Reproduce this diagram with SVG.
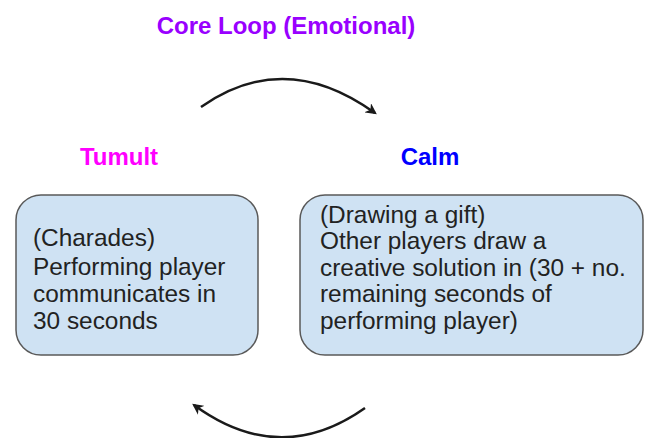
<svg xmlns="http://www.w3.org/2000/svg" width="645" height="438" viewBox="0 0 645 438">
<style>
.t{font-family:"Liberation Sans",Arial,sans-serif;font-size:24px;font-weight:bold;text-anchor:middle}
.b{font-family:"Liberation Sans",Arial,sans-serif;font-size:24.4px;fill:#222}
.box{fill:#cfe2f3;stroke:#595959;stroke-width:1.5}
.arc{fill:none;stroke:#1a1a1a;stroke-width:2.5;marker-end:url(#ah)}
</style>
<defs>
<marker id="ah" viewBox="0 0 10 10" refX="8" refY="5" markerWidth="4.5" markerHeight="4.5" orient="auto" markerUnits="strokeWidth">
<path d="M0,0 L10,5 L0,10 L3,5 z" fill="#1a1a1a"/>
</marker>
</defs>
<rect width="645" height="438" fill="#fff"/>
<g id="title"><text class="t" x="286" y="34" fill="#9900ff">Core Loop (Emotional)</text></g>
<g id="tumult-label"><text class="t" x="119" y="165" fill="#ff00ff">Tumult</text></g>
<g id="calm-label"><text class="t" x="430" y="165" fill="#0000ff">Calm</text></g>
<g id="tumult">
<rect class="box" x="16" y="195" width="242" height="160" rx="25"/>
<text class="b" x="33"><tspan x="33" y="246">(Charades)</tspan><tspan x="33" y="275">Performing player</tspan><tspan x="33" y="302">communicates in</tspan><tspan x="33" y="329">30 seconds</tspan></text>
</g>
<g id="calm">
<rect class="box" x="300" y="195" width="343" height="160" rx="25"/>
<text class="b" x="320"><tspan x="320" y="223">(Drawing a gift)</tspan><tspan x="320" y="249">Other players draw a</tspan><tspan x="320" y="276">creative solution in (30 + no.</tspan><tspan x="320" y="302">remaining seconds of</tspan><tspan x="320" y="329">performing player)</tspan></text>
</g>
<g id="connectors">
<path class="arc" d="M201,107 Q285,48 375,113"/>
<path class="arc" d="M365,408 Q280,468 194,405"/>
</g>
</svg>
